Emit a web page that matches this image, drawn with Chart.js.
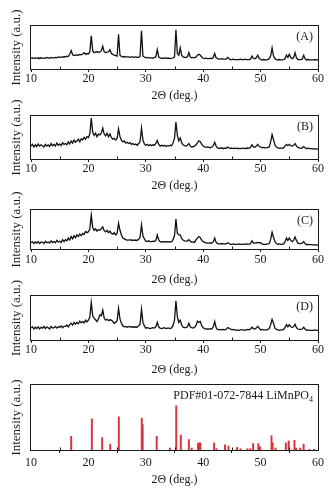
<!DOCTYPE html>
<html>
<head>
<meta charset="utf-8">
<script src="https://cdn.jsdelivr.net/npm/chart.js@4.4.0/dist/chart.umd.min.js"></script>
<style>
  html, body { margin: 0; padding: 0; background: #fff; }
  #fig { position: relative; width: 336px; height: 500px; overflow: hidden; }
  .panel { position: absolute; left: 0; width: 336px; }
</style>
</head>
<body>
<div id="fig"></div>
<script>
'use strict';

// ── Data: XRD patterns, sampled every 0.25° from 10° to 60° ──────
const thetaStart = 10, thetaStep = 0.25;
const xTicks = [10, 20, 30, 40, 50, 60];
const minorTicks = [15, 25, 35, 45, 55];

const intensityA = [
/*10*/ 25,26,25,26, /*11*/ 25,26,24,26, /*12*/ 25,26,25,27, /*13*/ 26,25,27,26,
/*14*/ 26,27,26,28, /*15*/ 27,28,27,29, /*16*/ 28,30,29,35, /*17*/ 43,33,31,32,
/*18*/ 33,32,34,33, /*19*/ 35,38,34,36, /*20*/ 35,40,77,42, /*21*/ 38,39,40,39,
/*22*/ 40,42,53,40, /*23*/ 38,39,40,45, /*24*/ 36,34,32,31, /*25*/ 30,81,32,29,
/*26*/ 28,29,28,28, /*27*/ 28,27,28,28, /*28*/ 27,28,27,27, /*29*/ 30,89,30,28,
/*30*/ 26,27,26,26, /*31*/ 26,25,27,28, /*32*/ 45,28,26,25, /*33*/ 25,26,25,25,
/*34*/ 25,24,25,26, /*35*/ 28,91,36,32, /*36*/ 49,32,28,27, /*37*/ 27,28,38,28,
/*38*/ 26,27,26,28, /*39*/ 32,34,32,28, /*40*/ 25,24,25,24, /*41*/ 24,25,24,27,
/*42*/ 36,26,24,23, /*43*/ 23,24,23,23, /*44*/ 23,27,24,22, /*45*/ 22,23,22,22,
/*46*/ 22,22,23,22, /*47*/ 22,23,22,22, /*48*/ 22,23,30,25, /*49*/ 24,26,32,25,
/*50*/ 22,21,22,21, /*51*/ 21,22,24,30, /*52*/ 49,30,24,22, /*53*/ 21,22,21,21,
/*54*/ 22,24,32,27, /*55*/ 34,27,24,26, /*56*/ 38,26,22,22, /*57*/ 22,23,32,24,
/*58*/ 21,22,21,21, /*59*/ 21,21,22,21, /*60*/ 21
];

const intensityB = [
/*10*/ 30,34,28,33, /*11*/ 29,35,30,33, /*12*/ 31,28,34,30, /*13*/ 33,29,36,31,
/*14*/ 34,30,37,32, /*15*/ 35,31,38,34, /*16*/ 36,33,40,35, /*17*/ 42,37,44,39,
/*18*/ 42,46,40,47, /*19*/ 44,50,46,52, /*20*/ 50,58,95,62, /*21*/ 55,60,52,58,
/*22*/ 56,60,72,58, /*23*/ 54,60,52,58, /*24*/ 50,46,48,44, /*25*/ 48,70,52,44,
/*26*/ 40,42,37,39, /*27*/ 36,38,34,36, /*28*/ 33,35,32,36, /*29*/ 40,72,44,35,
/*30*/ 32,34,31,33, /*31*/ 31,33,32,36, /*32*/ 43,34,30,32, /*33*/ 30,32,29,31,
/*34*/ 30,32,31,38, /*35*/ 48,86,55,42, /*36*/ 49,38,33,31, /*37*/ 30,32,36,30,
/*38*/ 28,29,30,33, /*39*/ 38,42,40,34, /*40*/ 30,28,27,28, /*41*/ 27,26,28,31,
/*42*/ 39,30,26,25, /*43*/ 25,26,24,25, /*44*/ 25,28,26,25, /*45*/ 25,24,25,24,
/*46*/ 25,24,24,25, /*47*/ 24,25,24,26, /*48*/ 25,27,33,28, /*49*/ 27,30,34,29,
/*50*/ 28,26,27,26, /*51*/ 26,27,28,40, /*52*/ 57,45,32,28, /*53*/ 26,25,26,25,
/*54*/ 26,30,34,31, /*55*/ 34,31,30,32, /*56*/ 36,30,27,26, /*57*/ 25,26,29,26,
/*58*/ 24,25,24,24, /*59*/ 24,23,24,23, /*60*/ 23
];

const intensityC = [
/*10*/ 16,19,14,18, /*11*/ 15,19,14,18, /*12*/ 17,14,20,16, /*13*/ 18,15,21,17,
/*14*/ 19,16,22,18, /*15*/ 20,17,24,19, /*16*/ 24,21,28,23, /*17*/ 32,26,34,29,
/*18*/ 36,32,38,34, /*19*/ 40,37,45,42, /*20*/ 44,52,87,55, /*21*/ 48,52,46,50,
/*22*/ 48,52,57,47, /*23*/ 44,48,42,46, /*24*/ 40,38,42,36, /*25*/ 40,66,48,36,
/*26*/ 28,26,24,23, /*27*/ 23,24,22,23, /*28*/ 22,23,22,25, /*29*/ 30,62,34,26,
/*30*/ 20,19,21,19, /*31*/ 19,20,19,22, /*32*/ 36,23,19,18, /*33*/ 19,18,19,18,
/*34*/ 19,18,19,24, /*35*/ 34,77,40,36, /*36*/ 36,27,23,21, /*37*/ 20,21,24,20,
/*38*/ 17,18,17,24, /*39*/ 28,32,29,22, /*40*/ 19,17,16,15, /*41*/ 15,16,15,18,
/*42*/ 28,17,14,13, /*43*/ 13,14,13,13, /*44*/ 13,16,14,12, /*45*/ 12,13,12,12,
/*46*/ 12,13,12,12, /*47*/ 12,13,12,13, /*48*/ 12,14,21,15, /*49*/ 15,16,17,16,
/*50*/ 16,13,12,12, /*51*/ 12,13,14,25, /*52*/ 43,30,19,14, /*53*/ 12,13,12,12,
/*54*/ 13,18,28,22, /*55*/ 28,22,19,22, /*56*/ 31,22,15,14, /*57*/ 14,15,19,14,
/*58*/ 11,12,11,11, /*59*/ 11,10,11,10, /*60*/ 10
];

const intensityD = [
/*10*/ 27,30,25,29, /*11*/ 26,30,25,29, /*12*/ 27,31,26,30, /*13*/ 28,25,31,27,
/*14*/ 28,31,27,30, /*15*/ 29,32,28,31, /*16*/ 31,34,30,35, /*17*/ 38,34,40,36,
/*18*/ 40,37,43,39, /*19*/ 42,39,45,41, /*20*/ 45,52,85,55, /*21*/ 49,46,42,48,
/*22*/ 57,55,68,50, /*23*/ 45,47,44,46, /*24*/ 45,42,38,40, /*25*/ 44,72,48,38,
/*26*/ 32,30,31,29, /*27*/ 30,31,29,30, /*28*/ 29,30,29,32, /*29*/ 36,70,40,32,
/*30*/ 27,28,27,26, /*31*/ 27,28,27,30, /*32*/ 40,30,27,26, /*33*/ 27,28,26,27,
/*34*/ 27,26,28,33, /*35*/ 45,89,53,40, /*36*/ 45,34,29,28, /*37*/ 28,30,38,30,
/*38*/ 28,27,29,33, /*39*/ 43,40,42,32, /*40*/ 28,26,25,25, /*41*/ 25,26,25,30,
/*42*/ 42,28,24,23, /*43*/ 24,23,24,23, /*44*/ 24,28,27,25, /*45*/ 23,24,23,22,
/*46*/ 23,22,23,23, /*47*/ 23,22,23,24, /*48*/ 23,25,29,26, /*49*/ 25,27,31,27,
/*50*/ 23,24,23,23, /*51*/ 23,24,26,35, /*52*/ 47,38,27,24, /*53*/ 23,22,23,23,
/*54*/ 24,28,35,30, /*55*/ 35,30,29,30, /*56*/ 36,28,25,24, /*57*/ 24,25,29,25,
/*58*/ 22,23,22,22, /*59*/ 22,22,23,22, /*60*/ 22
];

// Reference pattern PDF#01-072-7844 (stick positions / relative heights)
const stickTheta = [17.0, 20.6, 22.4, 23.8, 25.3, 29.3, 29.45, 31.9, 34.2, 35.3, 36.1, 37.5, 38.0,
  39.1, 39.3, 39.5, 41.9, 42.3, 43.8, 44.4, 45.9, 46.5, 47.7, 48.2, 48.7, 49.6, 49.9,
  51.9, 52.1, 52.6, 54.4, 54.9, 55.9, 56.2, 56.9, 57.5, 58.5, 59.3];
const stickIntensity = [21, 48, 19, 9, 51, 49, 39, 21, 3, 68, 23, 16, 3,
  10, 11, 11, 11, 2, 8, 6, 4, 2, 2, 2, 10, 10, 5,
  22, 11, 3, 11, 14, 15, 3, 3, 9, 1, 1];

// ── Style ────────────────────────────────────────────────────────
const INK = '#1a1a1a';
const STICK_RED = '#d8343e';
const SERIF = "'Liberation Serif', 'Times New Roman', serif";

Chart.defaults.font.family = SERIF;
Chart.defaults.font.size = 12;
Chart.defaults.color = INK;
Chart.defaults.animation = false;

// Panel placement (plot box in page pixels)
const panels = [
  { tag: '(A)', data: intensityA, top: 26,  bottom: 69,  tickPad: 0, titleGap: 27 },
  { tag: '(B)', data: intensityB, top: 116, bottom: 159, tickPad: 0, titleGap: 27 },
  { tag: '(C)', data: intensityC, top: 210, bottom: 249, tickPad: 1, titleGap: 31 },
  { tag: '(D)', data: intensityD, top: 296, bottom: 340, tickPad: 0, titleGap: 30 },
  { tag: 'PDF#01-072-7844 LiMnPO', sub: '4', sticks: true, top: 385, bottom: 450, tickPad: 3, titleGap: 30 }
];

const PAD_TOP = 24, LEFT = 31, RIGHT_PAD = 18;

// ── Plugin: box frame, minor ticks, panel tag ────────────────────
const framePlugin = {
  id: 'frame',
  afterDatasetsDraw(chart, args, opts) {
    const { ctx, chartArea: a, scales: { x } } = chart;
    ctx.save();
    ctx.strokeStyle = INK;
    ctx.lineWidth = 1;
    const l = Math.round(a.left) - 0.5, t = Math.round(a.top) - 0.5;
    const r = Math.round(a.right) + 0.5, b = Math.round(a.bottom) + 0.5;
    ctx.strokeRect(l, t, r - l, b - t);
    // minor ticks point inward
    ctx.beginPath();
    minorTicks.forEach(v => {
      const px = Math.round(x.getPixelForValue(v)) + 0.5;
      ctx.moveTo(px, b);
      ctx.lineTo(px, b - 3);
    });
    ctx.stroke();
    // panel tag
    ctx.fillStyle = INK;
    ctx.font = '12px ' + SERIF;
    ctx.textBaseline = 'middle';
    ctx.textAlign = 'right';
    let xr = a.right - 5;
    const ty = a.top + 11;
    if (opts.sub) {
      ctx.font = '8px ' + SERIF;
      ctx.fillText(opts.sub, xr, ty + 4);
      xr -= ctx.measureText(opts.sub).width;
      ctx.font = '12px ' + SERIF;
    }
    ctx.fillText(opts.text, xr, ty);
    ctx.restore();
  }
};

function buildPanel(p) {
  const xHeight = p.titleGap + 7.2;
  const h = (p.bottom - p.top) + PAD_TOP + xHeight;
  const div = document.createElement('div');
  div.className = 'panel';
  div.style.top = (p.top - PAD_TOP) + 'px';
  div.style.height = Math.ceil(h) + 'px';
  const cv = document.createElement('canvas');
  cv.width = 336;
  cv.height = Math.ceil(h);
  div.appendChild(cv);
  document.getElementById('fig').appendChild(div);

  const dataset = p.sticks
    ? {
        type: 'bar',
        data: stickTheta.map((t, i) => ({ x: t, y: stickIntensity[i] })),
        backgroundColor: STICK_RED,
        barThickness: 1.3,
        borderWidth: 0
      }
    : {
        type: 'line',
        data: p.data.map((v, i) => ({ x: thetaStart + i * thetaStep, y: v })),
        borderColor: '#111',
        borderWidth: 1.3,
        pointRadius: 0,
        tension: 0
      };

  return new Chart(cv, {
    data: { datasets: [dataset] },
    plugins: [framePlugin],
    options: {
      responsive: false,
      layout: { padding: { top: PAD_TOP, right: RIGHT_PAD, left: 0, bottom: Math.ceil(h) - h } },
      plugins: {
        legend: { display: false },
        tooltip: { enabled: false },
        frame: { text: p.tag, sub: p.sub }
      },
      scales: {
        x: {
          type: 'linear',
          min: 10, max: 60,
          offset: false,
          afterBuildTicks: s => { s.ticks = xTicks.map(v => ({ value: v })); },
          ticks: { padding: p.tickPad, font: { size: 12 }, color: INK, maxRotation: 0 },
          grid: { display: true, drawOnChartArea: false, drawTicks: true, tickLength: 3, color: INK },
          border: { display: false },
          title: { display: true, text: '2Θ (deg.)', font: { size: 12 }, color: INK, padding: 0 },
          afterFit: s => { s.height = xHeight; }
        },
        y: {
          min: 0, max: 100,
          ticks: { display: false },
          grid: { display: false },
          border: { display: false },
          title: { display: true, text: 'Intensity (a.u.)', font: { size: 13 }, color: INK, padding: { top: 9, bottom: 0 } },
          afterFit: s => { s.width = LEFT; }
        }
      }
    }
  });
}

panels.forEach(buildPanel);
</script>
</body>
</html>
